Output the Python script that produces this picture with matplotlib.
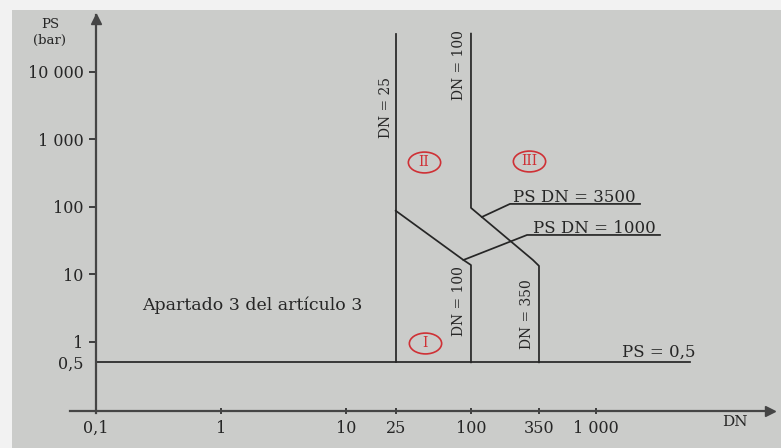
import matplotlib
matplotlib.use('Agg')
import matplotlib.pyplot as plt
from matplotlib.patches import Rectangle
from matplotlib.markers import MarkerStyle
from matplotlib.transforms import Affine2D

plt.rcParams['font.family'] = ['DejaVu Serif']

# axis ticks
dn_ticks = [0.1, 1, 10, 25, 100, 350, 1000]
dn_ticklabels = ['0,1', '1', '10', '25', '100', '350', '1 000']
ps_ticks = [0.5, 1, 10, 100, 1000, 10000]
ps_ticklabels = ['0,5', '1', '10', '100', '1 000', '10 000']

# category boundaries (DN, PS)
ps05_dn = [0.1, 5650]
ps05_ps = [0.5, 0.5]
dn25_dn = [25, 25]
dn25_ps = [0.5, 37000]
psdn1000_dn = [25, 87, 100, 100]
psdn1000_ps = [88, 16.4, 13.8, 0.5]
psdn3500_dn = [100, 100, 313, 350, 350]
psdn3500_ps = [37000, 97, 16.4, 13.4, 0.5]

# leader lines for the PS*DN labels
lead3500_dn = [122, 205, 2250]
lead3500_ps = [71, 111, 111]
lead1000_dn = [87, 281, 3250]
lead1000_ps = [16.4, 38.5, 38.5]

# category markers
regions = ['I', 'II', 'III']
region_dn = [42.6, 42, 291]
region_ps = [0.97, 464, 480]

ink = '#262626'
axis_ink = '#454545'
red = '#cf3035'

fig = plt.figure(figsize=(7.81, 4.48), dpi=100)
fig.patch.set_facecolor('#f2f2f2')
fig.patches.append(Rectangle((12 / 781, 0), 769 / 781, 438 / 448,
                             transform=fig.transFigure, facecolor='#cbccca',
                             edgecolor='none', zorder=-1))

ax = fig.add_axes([70 / 781, 1 - 413 / 448, 700 / 781, 398 / 448])
ax.set_zorder(1)
ax.set_facecolor('none')
ax.set_xscale('log')
ax.set_yscale('log')
ax.set_xlim(0.062, 24660)
ax.set_ylim(0.0887, 69850)

for s in ['top', 'right']:
    ax.spines[s].set_visible(False)
ax.spines['left'].set_position(('data', 0.1))
ax.spines['bottom'].set_position(('data', 0.095))
for s in ['left', 'bottom']:
    ax.spines[s].set_color(axis_ink)
    ax.spines[s].set_linewidth(1.6)

ax.plot(1, 0.095, marker='>', ms=7, color=axis_ink,
        transform=ax.get_yaxis_transform(), clip_on=False)
ax.plot(0.1, 0.99, marker='^', ms=7, color=axis_ink,
        transform=ax.get_xaxis_transform(), clip_on=False)

ax.set_xticks(dn_ticks)
ax.set_xticklabels(dn_ticklabels)
ax.set_yticks(ps_ticks)
ax.set_yticklabels(ps_ticklabels)
ax.minorticks_off()
ax.tick_params(axis='y', direction='out', length=5, width=1.2, pad=4,
               labelsize=11.5, colors=ink)
ax.tick_params(axis='x', direction='inout', length=5, width=1.2, pad=4,
               labelsize=11.5, colors=ink)
ax.yaxis.get_major_ticks()[0].tick1line.set_visible(False)

lw = 1.25
ax.plot(ps05_dn, ps05_ps, color=ink, lw=lw)
ax.plot(dn25_dn, dn25_ps, color=ink, lw=lw)
ax.plot(psdn1000_dn, psdn1000_ps, color=ink, lw=lw)
ax.plot(psdn3500_dn, psdn3500_ps, color=ink, lw=lw)
ax.plot(lead3500_dn, lead3500_ps, color=ink, lw=lw)
ax.plot(lead1000_dn, lead1000_ps, color=ink, lw=lw)

ax.text(217, 118, 'PS DN = 3500', fontsize=12, color=ink, va='baseline')
ax.text(313, 41, 'PS DN = 1000', fontsize=12, color=ink, va='baseline')
ax.text(1615, 0.6, 'PS = 0,5', fontsize=12, color=ink, va='baseline')
ax.text(0.233, 3.5, 'Apartado 3 del artículo 3', fontsize=12.5, color=ink, va='center')

ax.text(21, 2930, 'DN = 25', rotation=90, fontsize=10, color=ink, ha='center', va='center')
ax.text(80, 12700, 'DN = 100', rotation=90, fontsize=10, color=ink, ha='center', va='center')
ax.text(80, 4.05, 'DN = 100', rotation=90, fontsize=10, color=ink, ha='center', va='center')
ax.text(281, 2.6, 'DN = 350', rotation=90, fontsize=10, color=ink, ha='center', va='center')

# red ellipses round the category numbers
oval = MarkerStyle('o', transform=Affine2D().scale(1.55, 1.0))
ax.plot(region_dn, region_ps, ls='none', marker=oval, ms=15,
        mfc='none', mec=red, mew=1.2)
for lab, x, y in zip(regions, region_dn, region_ps):
    ax.text(x, y, lab, fontsize=10, color=red, ha='center', va='center')

fig.text(50 / 781, 1 - 24 / 448, 'PS', fontsize=9.5, color=ink, ha='center', va='center')
fig.text(50 / 781, 1 - 40 / 448, '(bar)', fontsize=9.5, color=ink, ha='center', va='center')
fig.text(735 / 781, 1 - 422 / 448, 'DN', fontsize=11, color=ink, ha='center', va='center')

fig.savefig('out.png', dpi=100, facecolor=fig.get_facecolor())
